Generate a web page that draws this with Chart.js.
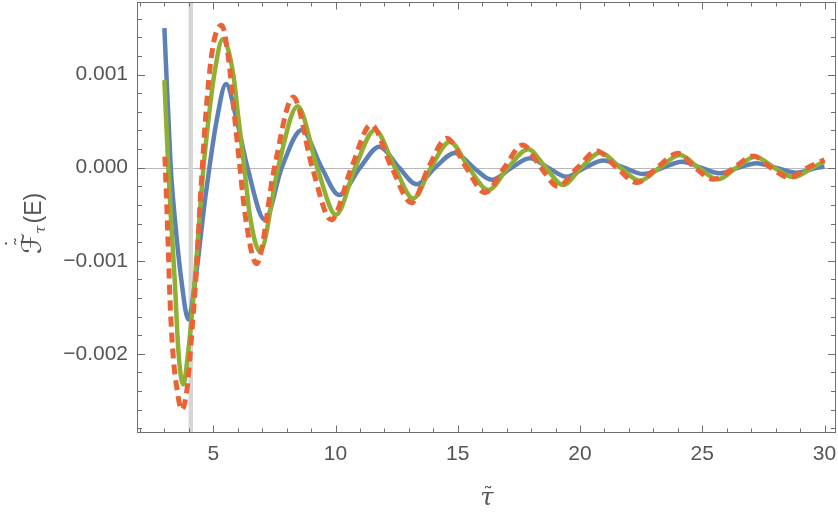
<!DOCTYPE html>
<html>
<head>
<meta charset="utf-8">
<script src="https://cdn.jsdelivr.net/npm/chart.js@4"></script>
<style>
  html, body { margin: 0; padding: 0; background: #fff; }
  #wrap { width: 838px; height: 512px; }
</style>
</head>
<body>
<div id="wrap"><canvas id="plot" width="838" height="512"></canvas></div>
<script>
// -------------------------
// DATA
// -------------------------

const blueTau = [3.0, 3.26, 3.36, 3.71, 3.98, 4.25, 4.66, 4.84, 5.14, 5.52, 5.96, 6.4, 7.11, 7.8, 8.62,
  9.43, 10.15, 11.0, 11.79, 12.6, 13.32, 14.07, 14.88, 15.65, 16.39, 17.2, 17.95, 18.7, 19.45, 20.2,
  20.95, 21.8, 22.59, 23.4, 24.16, 24.95, 25.72, 26.5, 27.22, 28.0, 28.86, 29.7, 30.0];
const blueVal = [0.0015, 0, -0.00035, -0.00124, -0.00163, -0.00124, -0.00035, 0, 0.00051, 0.0009, 0.00051, 0, -0.00056, 0, 0.000405,
  0, -0.000293, 0, 0.000226, 0, -0.000178, 0, 0.000158, 0, -0.00013, 0, 0.000101, 0, -0.000097, 0,
  0.000076, 0, -0.000068, 0, 0.000064, 0, -0.00006, 0, 0.000048, 0, -0.000054, 0, 0.000012];

const greenTau = [3.0, 3.16, 3.26, 3.43, 3.57, 3.77, 3.98, 4.18, 4.6, 4.8, 5.07, 5.38, 5.82, 6.02,
  6.27, 6.5, 6.91, 7.65, 8.45, 9.25, 10.02, 10.8, 11.61, 12.43, 13.18, 13.9, 14.68, 15.45, 16.25,
  17.05, 17.88, 18.6, 19.31, 20.05, 20.82, 21.65, 22.45, 23.25, 24.09, 24.85, 25.65, 26.4, 27.16,
  27.95, 28.72, 29.5, 30.0];
const greenVal = [0.00094, 0, -0.0005, -0.00124, -0.00196, -0.00233, -0.00196, -0.00142, 0, 0.00051, 0.00105, 0.00138, 0.00100, 0.00055,
  0, -0.00052, -0.0009, 0, 0.00066, 0, -0.000505, 0, 0.000405, 0, -0.00033, 0, 0.00028, 0, -0.00024,
  0, 0.000197, 0, -0.000186, 0, 0.000161, 0, -0.00014, 0, 0.000136, 0, -0.000125, 0, 0.000118,
  0, -0.000103, 0, 0.00007];

const redTau = [3.02, 3.09, 3.16, 3.23, 3.34, 3.5, 3.71, 3.94, 4.12, 4.32, 4.46, 4.55, 4.66, 4.87, 5.07,
  5.34, 5.61, 5.85, 6.09, 6.3, 6.77, 7.5, 8.27, 9.05, 9.82, 10.65, 11.45, 12.3, 13.11, 13.8,
  14.55, 15.35, 16.11, 16.9, 17.65, 18.4, 19.1, 19.9, 20.68, 21.5, 22.32, 23.15, 24.0, 24.7,
  25.45, 26.3, 27.09, 27.8, 28.55, 29.3, 30.0];
const redVal = [0.00012, -0.00035, -0.00088, -0.00142, -0.00196, -0.00235, -0.0026, -0.00235, -0.00178, -0.00106, -0.00038, 0, 0.00045, 0.00108, 0.00141,
  0.00153, 0.0012, 0.0006, 0, -0.0005, -0.00103, 0, 0.00076, 0, -0.00056, 0, 0.00046, 0, -0.000376, 0,
  0.000316, 0, -0.000268, 0, 0.000244, 0, -0.0002, 0, 0.00018, 0, -0.00016, 0, 0.000155, 0,
  -0.000125, 0, 0.000126, 0, -0.000103, 0, 0.000085];

const markerTau = 4.08;              // grey vertical line
const xTickLabels = [5, 10, 15, 20, 25, 30];
const yTickLabels = [-0.002, -0.001, 0, 0.001];

// -------------------------
// HELPERS
// -------------------------

function pts(xs, ys) {
  return xs.map((x, i) => ({ x: x, y: ys[i] }));
}

function fmtY(v) {
  if (Math.abs(v) < 1e-12) return '0.000';
  return (v < 0 ? '\u2212' : '') + Math.abs(v).toFixed(3);
}

// keep the plot area fixed, no room for label overflow
function fixPadding(s) {
  s.paddingLeft = 0; s.paddingRight = 0; s.paddingTop = 0; s.paddingBottom = 0;
}

const FRAME = '#6f6f6f';
const LABEL = '#555555';

// background lines: zero line + marker
const backLines = {
  id: 'backLines',
  beforeDatasetsDraw(chart) {
    const { ctx, chartArea: a, scales: { x, y } } = chart;
    ctx.save();
    ctx.strokeStyle = '#b8b8b8';
    ctx.lineWidth = 1;
    const y0 = Math.round(y.getPixelForValue(0)) + 0.5;
    ctx.beginPath(); ctx.moveTo(a.left, y0); ctx.lineTo(a.right, y0); ctx.stroke();
    ctx.strokeStyle = '#d6d6d6';
    ctx.lineWidth = 4.5;
    const xm = x.getPixelForValue(markerTau);
    ctx.beginPath(); ctx.moveTo(xm, a.top); ctx.lineTo(xm, a.bottom); ctx.stroke();
    ctx.restore();
  }
};

// frame with inward ticks + axis titles
const frame = {
  id: 'frame',
  afterDraw(chart) {
    const { ctx, chartArea: a, scales: { x, y } } = chart;
    ctx.save();
    ctx.strokeStyle = FRAME;
    ctx.lineWidth = 1;
    ctx.strokeRect(a.left + 0.5, a.top + 0.5, a.right - a.left - 1, a.bottom - a.top - 1);

    ctx.beginPath();
    for (let t = 2; t <= 30; t++) {
      const len = t % 5 === 0 ? 7.5 : 4.5;
      const px = Math.round(x.getPixelForValue(t)) + 0.5;
      ctx.moveTo(px, a.bottom); ctx.lineTo(px, a.bottom - len);
      ctx.moveTo(px, a.top); ctx.lineTo(px, a.top + len);
    }
    for (let k = -14; k <= 8; k++) {
      const v = k * 0.0002;
      const len = k % 5 === 0 ? 8 : 5;
      const py = Math.round(y.getPixelForValue(v)) + 0.5;
      ctx.moveTo(a.left, py); ctx.lineTo(a.left + len, py);
      ctx.moveTo(a.right, py); ctx.lineTo(a.right - len, py);
    }
    ctx.stroke();

    // x title: tau tilde
    ctx.fillStyle = LABEL;
    ctx.textAlign = 'center';
    ctx.textBaseline = 'alphabetic';
    ctx.font = 'italic 24px "DejaVu Serif"';
    ctx.fillText('\u03c4', 487, 505);
    ctx.font = '20px "DejaVu Sans"';
    ctx.fillText('\u02dc', 488, 501);

    // y title: F with tilde and dot, subscript tau, (E)
    ctx.save();
    ctx.translate(41, 254);
    ctx.rotate(-Math.PI / 2);
    ctx.textAlign = 'left';
    ctx.font = '27px "DejaVu Sans"';
    ctx.fillText('\u2131', 0, 0);
    const fw = ctx.measureText('\u2131').width;
    ctx.textAlign = 'center';
    ctx.font = '20px "DejaVu Sans"';
    ctx.fillText('\u02dc', fw * 0.5 + 2, -12);
    ctx.fillText('\u02d9', fw * 0.5, -21);
    ctx.textAlign = 'left';
    ctx.font = 'italic 15px "DejaVu Serif"';
    ctx.fillText('\u03c4', fw - 1, 4);
    const tw = ctx.measureText('\u03c4').width;
    ctx.font = '23px "Liberation Sans"';
    ctx.fillText('(E)', fw + tw + 1, 0);
    ctx.restore();

    ctx.restore();
  }
};

// -------------------------
// CHART
// -------------------------

const tickFont = { family: '"Liberation Sans", Arial, sans-serif', size: 21 };

new Chart(document.getElementById('plot'), {
  type: 'line',
  data: {
    datasets: [
      {
        label: 'blue',
        data: pts(blueTau, blueVal),
        borderColor: '#5e81b5',
        borderWidth: 4.5,
        order: 3
      },
      {
        label: 'green',
        data: pts(greenTau, greenVal),
        borderColor: '#8fb032',
        borderWidth: 4.5,
        order: 2
      },
      {
        label: 'red',
        data: pts(redTau, redVal),
        borderColor: '#eb6235',
        borderWidth: 5,
        borderDash: [10, 6],
        borderCapStyle: 'butt',
        order: 1
      }
    ]
  },
  options: {
    responsive: false,
    animation: false,
    layout: { padding: { top: 2, right: 2, left: 0, bottom: 0 } },
    elements: { point: { radius: 0 }, line: { cubicInterpolationMode: 'monotone' } },
    plugins: { legend: { display: false }, tooltip: { enabled: false } },
    scales: {
      x: {
        type: 'linear',
        min: 1.88,
        max: 30.47,
        afterFit: s => { s.height = 79; fixPadding(s); },
        afterBuildTicks: s => { s.ticks = xTickLabels.map(v => ({ value: v })); },
        grid: { display: false, drawTicks: false },
        border: { display: false },
        ticks: { color: LABEL, font: tickFont, padding: 9, maxRotation: 0, autoSkip: false }
      },
      y: {
        min: -0.00285,
        max: 0.00178,
        afterFit: s => { s.width = 137; fixPadding(s); },
        afterBuildTicks: s => { s.ticks = yTickLabels.map(v => ({ value: v })); },
        grid: { display: false, drawTicks: false },
        border: { display: false },
        ticks: { color: LABEL, font: tickFont, padding: 9, autoSkip: false, callback: v => fmtY(v) }
      }
    }
  },
  plugins: [backLines, frame]
});
</script>
</body>
</html>
